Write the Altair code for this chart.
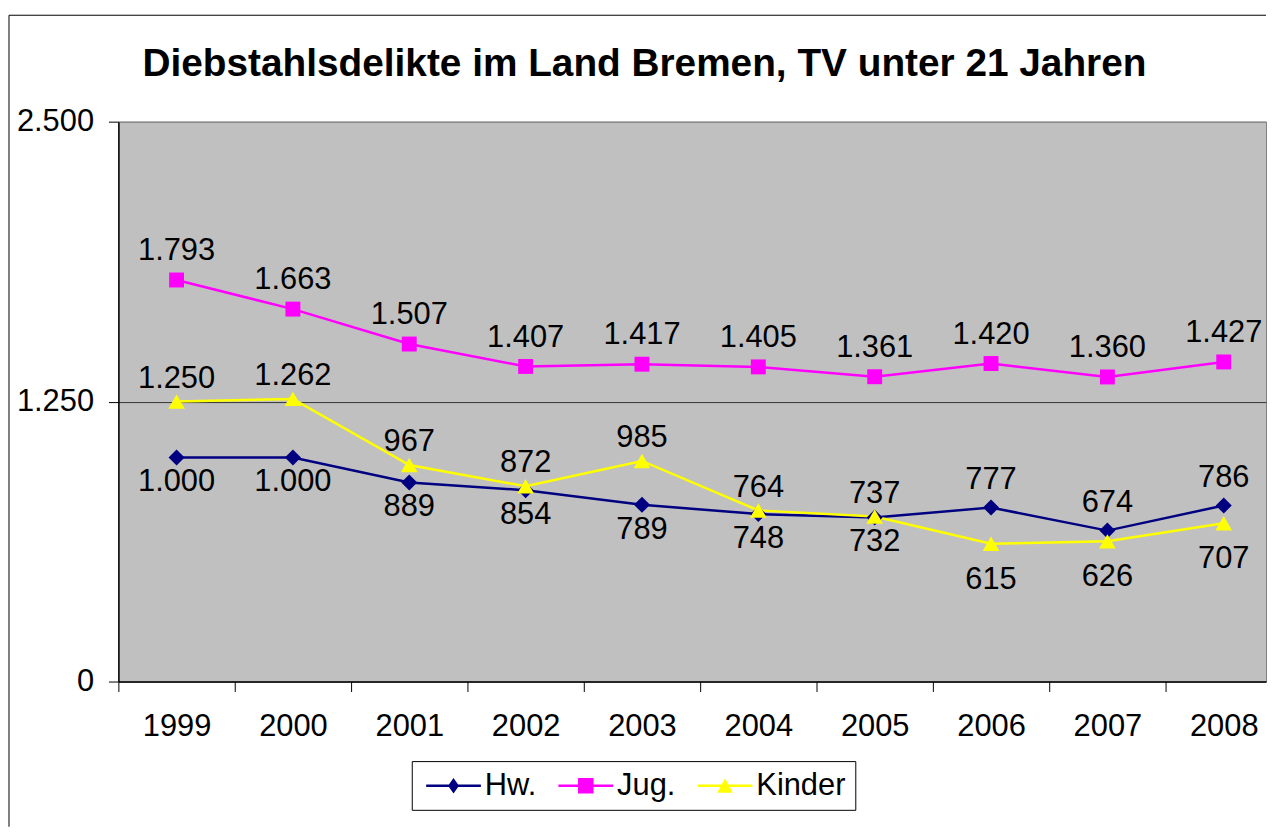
import altair as alt
import pandas as pd

FONT = "Liberation Sans"

years = [1999, 2000, 2001, 2002, 2003, 2004, 2005, 2006, 2007, 2008]
hw = [1000, 1000, 889, 854, 789, 748, 732, 777, 674, 786]
jug = [1793, 1663, 1507, 1407, 1417, 1405, 1361, 1420, 1360, 1427]
kinder = [1250, 1262, 967, 872, 985, 764, 737, 615, 626, 707]
series_names = ["Hw.", "Jug.", "Kinder"]
series_colors = ["#000080", "#FF00FF", "#FFFF00"]
marker_shapes = ["diamond", "square", "triangle-up"]
y_ticks = [0, 1250, 2500]
title_text = "Diebstahlsdelikte im Land Bremen, TV unter 21 Jahren"

color_of = dict(zip(series_names, series_colors))
rows = []
for i, yr in enumerate(years):
    for name, vals in zip(series_names, [hw, jug, kinder]):
        v = vals[i]
        if name == "Jug.":
            side = "up"
        else:
            other = kinder[i] if name == "Hw." else hw[i]
            side = "up" if v >= other else "down"
        rows.append(dict(year=yr, series=name, value=v, hex=color_of[name],
                         label=f"{v:,}".replace(",", "."), side=side))
df = pd.DataFrame(rows)

W, H = 1154, 563
BAND = 117.0
FS = 31

x_enc = alt.X(
    "year:Q",
    title=None,
    scale=alt.Scale(domain=[1998.5, 1998.5 + W / BAND], nice=False, zero=False),
    axis=alt.Axis(
        values=[y - 0.5 for y in years],
        labelExpr="format(datum.value + 0.5, 'd')",
        labelOffset=BAND / 2,
        labelFlush=False,
        labelOverlap=False,
        labelBound=False,
        tickSize=10,
        tickColor="#000000",
        domainColor="#000000",
        domainWidth=1.5,
        labelPadding=20,
        labelFontSize=FS,
        labelFont=FONT,
        labelColor="#000000",
        grid=False,
    ),
)
y_enc = alt.Y(
    "value:Q",
    title=None,
    scale=alt.Scale(domain=[0, 2500], nice=False),
    axis=alt.Axis(
        values=y_ticks,
        labelExpr="replace(format(datum.value, ','), ',', '.')",
        tickSize=10,
        tickColor="#000000",
        domainColor="#000000",
        domainWidth=1.5,
        labelPadding=15,
        labelFontSize=FS,
        labelFont=FONT,
        labelColor="#000000",
        grid=True,
        gridColor={"condition": {"test": "datum.value == 1250", "value": "#333333"},
                   "value": "#808080"},
        gridWidth=1,
    ),
)

line_path = "M-2.75,-0.12H2.75V0.12H-2.75Z "
legend_paths = [
    line_path + "M0,-0.78L0.55,0L0,0.78L-0.55,0Z",
    line_path + "M-0.78,-0.78H0.78V0.78H-0.78Z",
    line_path + "M0,-0.75L0.78,0.72H-0.78Z",
]

legend = alt.Legend(
    title=None,
    orient="none",
    legendX=295,
    legendY=643,
    direction="horizontal",
    strokeColor="#000000",
    fillColor="#FFFFFF",
    padding=9,
    labelFontSize=FS,
    labelFont=FONT,
    labelColor="#000000",
    symbolSize=400,
    symbolOffset=17.5,
    labelOffset=16,
    columnPadding=16,
    symbolStrokeWidth=0,
    symbolOpacity=1,
)

base = alt.Chart(df)

lines = base.mark_line(strokeWidth=2.5).encode(
    x=x_enc, y=y_enc,
    detail="series:N",
    stroke=alt.Stroke("hex:N", scale=None),
)

marker_sizes = {"diamond": 260, "square": 225, "triangle-up": 280}

def markers(name, shape):
    return base.transform_filter(alt.datum.series == name).mark_point(
        filled=True, size=marker_sizes[shape], opacity=1, strokeWidth=0, shape=shape
    ).encode(
        x=x_enc, y=y_enc,
        fill=alt.Fill("hex:N", scale=None),
    )

legend_layer = base.mark_point(filled=True, size=225, strokeWidth=0).encode(
    x=x_enc, y=y_enc,
    opacity=alt.value(0),
    color=alt.Color("series:N", scale=alt.Scale(domain=series_names, range=series_colors),
                    legend=legend),
    shape=alt.Shape("series:N", scale=alt.Scale(domain=series_names, range=legend_paths),
                    legend=legend),
)

def labels(series, side, dy):
    return base.transform_filter(
        (alt.datum.series == series) & (alt.datum.side == side)
    ).mark_text(
        fontSize=FS, font=FONT, color="#000000", baseline="middle", dy=dy
    ).encode(x=x_enc, y=y_enc, text="label:N")

frame_df = pd.DataFrame({"k": [0]})
frame_top = alt.Chart(frame_df).mark_rule(color="#000000", strokeWidth=1).encode(
    x=alt.value(-110), x2=alt.value(W), y=alt.value(-107)
)
frame_left = alt.Chart(frame_df).mark_rule(color="#000000", strokeWidth=1).encode(
    x=alt.value(-110), y=alt.value(-107), y2=alt.value(709)
)

layers = [frame_top, frame_left, lines]
layers += [markers(n, s) for n, s in zip(series_names, marker_shapes)]
layers += [
    legend_layer,
    labels("Jug.", "up", -29),
    labels("Kinder", "up", -23),
    labels("Kinder", "down", 36),
    labels("Hw.", "up", -28),
    labels("Hw.", "down", 25),
]

chart = alt.layer(*layers).properties(
    width=W,
    height=H,
    background="#FFFFFF",
    padding={"left": 0, "top": 4, "right": 0, "bottom": 0},
    title=alt.TitleParams(
        title_text, fontSize=39, fontWeight="bold", font=FONT, color="#000000",
        anchor="middle", dx=-48, offset=-70,
    ),
).configure_view(
    fill="#C0C0C0", stroke="#808080", strokeWidth=1
)

chart.save("out.html", embed_options={"renderer": "svg", "actions": False})
